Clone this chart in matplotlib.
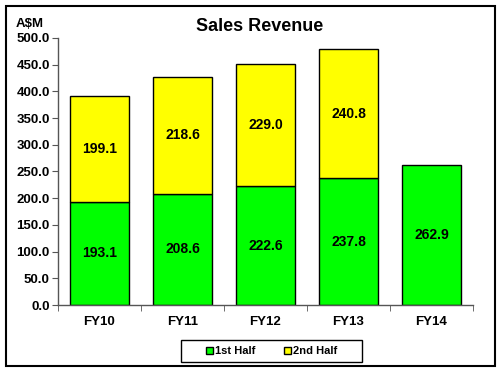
import matplotlib
matplotlib.use("Agg")
import matplotlib.pyplot as plt
from matplotlib.patches import Rectangle
import numpy as np

categories = ["FY10", "FY11", "FY12", "FY13", "FY14"]
first_half = [193.1, 208.6, 222.6, 237.8, 262.9]
second_half = [199.1, 218.6, 229.0, 240.8, None]
yticks = [0, 50, 100, 150, 200, 250, 300, 350, 400, 450, 500]

plt.rcParams['font.family'] = ['Liberation Sans', 'DejaVu Sans']
plt.rcParams['font.weight'] = 'bold'

fig = plt.figure(figsize=(5, 3.72), dpi=100)
# outer frame
fig.patches.append(Rectangle((0.012, 0.016), 0.978, 0.968, transform=fig.transFigure,
                             fill=False, edgecolor='black', linewidth=1.5))
ax = fig.add_axes([0.116, 0.180, 0.830, 0.718])

x = np.arange(len(categories))
w = 0.70
green = '#00ff00'
yellow = '#ffff00'
b1 = ax.bar(x, first_half, width=w, color=green, edgecolor='black', linewidth=1.0, label='1st Half')
sh = [v if v is not None else 0 for v in second_half]
b2 = ax.bar(x, sh, width=w, bottom=first_half, color=yellow, edgecolor='black', linewidth=1.0, label='2nd Half')
for i in range(len(categories)):
    if second_half[i] is None:
        b2[i].set_visible(False)

for i in range(len(categories)):
    ax.text(x[i], first_half[i] / 2, f"{first_half[i]:.1f}", ha='center', va='center',
            fontsize=10, fontweight='bold')
    if second_half[i] is not None:
        ax.text(x[i], first_half[i] + second_half[i] / 2, f"{second_half[i]:.1f}",
                ha='center', va='center', fontsize=10, fontweight='bold')

ax.set_xlim(-0.5, len(categories) - 0.5)
ax.set_ylim(0, 500)
ax.set_yticks(yticks)
ax.set_yticklabels([f"{v:.1f}" for v in yticks], fontsize=9.5, fontweight='bold')
ax.set_xticks(x)
ax.set_xticklabels(categories, fontsize=9.5, fontweight='bold')
ax.tick_params(axis='x', length=0, pad=8)
ax.set_xticks(np.arange(-0.5, len(categories), 1.0), minor=True)
ax.tick_params(axis='x', which='minor', length=4, color='#555555')
ax.tick_params(axis='y', length=4, color='#555555', pad=2)
for s in ['top', 'right']:
    ax.spines[s].set_visible(False)
for s in ['left', 'bottom']:
    ax.spines[s].set_color('#555555')
    ax.spines[s].set_linewidth(1.0)

fig.text(0.52, 0.930, "Sales Revenue", ha='center', va='center', fontsize=13, fontweight='bold')
fig.text(0.06, 0.935, "A$M", ha='center', va='center', fontsize=9.5, fontweight='bold')

# legend box
fig.patches.append(Rectangle((181 / 500, 1 - 362 / 372), 181 / 500, 22 / 372,
                             transform=fig.transFigure, fill=False, edgecolor='black', linewidth=1.0))
leg = fig.legend(handles=[b1, b2], labels=['1st Half', '2nd Half'], loc='center',
                 bbox_to_anchor=(0.5435, 0.0565), ncol=2, frameon=False,
                 fontsize=8, handlelength=0.6, handleheight=0.6, handletextpad=0.2,
                 columnspacing=2.6, borderpad=0.3)
for t in leg.get_texts():
    t.set_fontweight('bold')

fig.savefig("out.png", dpi=100)
